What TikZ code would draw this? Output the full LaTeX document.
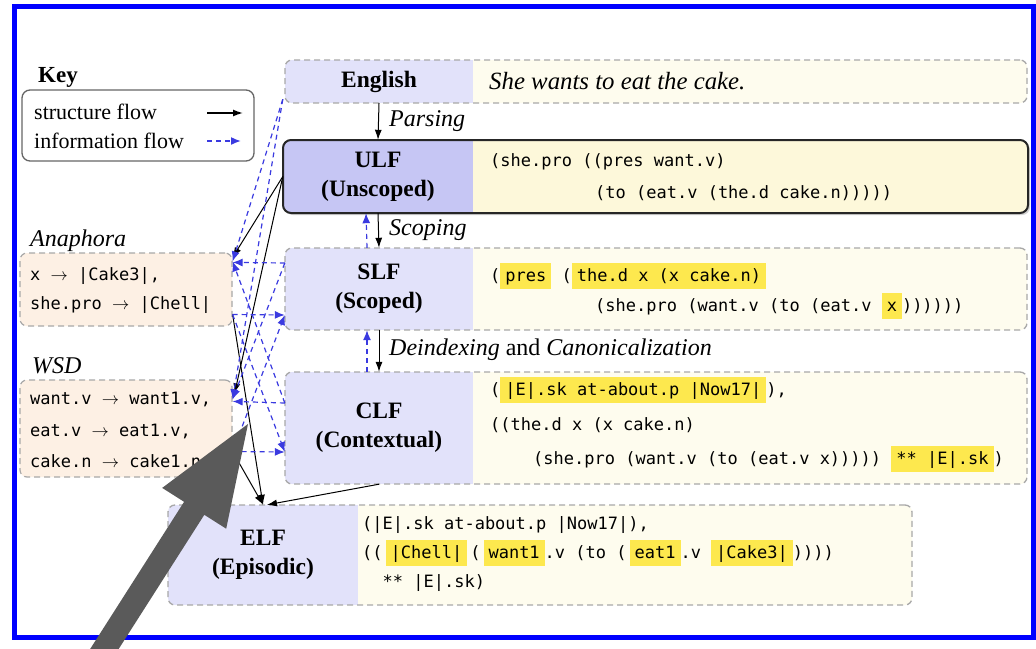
\documentclass[tikz,border=0pt]{standalone}
\usepackage{fontspec}
\setmainfont{Liberation Serif}
\newfontfamily\codefont{DejaVu Sans Mono}
\usetikzlibrary{arrows.meta,calc,shadows}
\definecolor{lav}{HTML}{E2E2FA}
\definecolor{lavd}{HTML}{C6C6F4}
\definecolor{cream}{HTML}{FEFCEE}
\definecolor{creamd}{HTML}{FDF8DA}
\definecolor{peach}{HTML}{FDF0E4}
\definecolor{hly}{HTML}{FDE84E}
\definecolor{dashgray}{HTML}{A8A8A8}
\definecolor{infoblue}{HTML}{3A3AE0}
\definecolor{bigarrow}{HTML}{5A5A5A}
\definecolor{frameblue}{HTML}{0000FF}
\newcommand\hl[1]{{\setlength{\fboxsep}{0pt}\colorbox{hly}{\rule[-8pt]{0pt}{26pt}\hspace{5pt}#1\hspace{5pt}}}}
\tikzset{
  stagebox/.style={draw=dashgray, dash pattern=on 6pt off 4pt, line width=1.3pt,
    rounded corners=7pt, fill=cream, inner sep=0pt,
    path picture={\fill[lav, sharp corners] (path picture bounding box.south west) rectangle ([xshift=#1]path picture bounding box.north west);}},
  ulfstyle/.style={draw=black!85, line width=2pt, rounded corners=8pt, fill=creamd, inner sep=0pt,
    drop shadow={shadow xshift=2pt, shadow yshift=-2pt, opacity=0.35},
    path picture={\fill[lavd, sharp corners] (path picture bounding box.south west) rectangle ([xshift=#1]path picture bounding box.north west);}},
  sidebox/.style={draw=dashgray, dash pattern=on 6pt off 4pt, line width=1.2pt,
    rounded corners=7pt, fill=peach, inner sep=0pt},
  keybox/.style={draw=black!60, line width=1.3pt, rounded corners=8pt, fill=white, inner sep=0pt},
  lbl/.style={font=\bfseries\fontsize{23.5pt}{29pt}\selectfont, align=center, inner sep=0pt},
  ital/.style={font=\itshape\fontsize{24pt}{29pt}\selectfont, inner sep=0pt, anchor=west},
  plain/.style={font=\fontsize{22pt}{26pt}\selectfont, inner sep=0pt, anchor=west},
  code/.style={font=\codefont\fontsize{17pt}{20pt}\selectfont, inner sep=0pt, anchor=base west},
  sflow/.style={-{Latex[length=10pt,width=7pt]}, line width=1pt, black},
  iflow/.style={-{Latex[length=10pt,width=8pt]}, line width=1.2pt, infoblue, dash pattern=on 5pt off 4pt},
}
\begin{document}
\begin{tikzpicture}[x=1pt, y=-1pt]
\useasboundingbox (0,0) rectangle (1036,648);
\clip (0,0) rectangle (1036,648);
\fill[white] (0,0) rectangle (1036,648);

% ---------- Key ----------
\node[font=\bfseries\fontsize{23pt}{26pt}\selectfont, inner sep=0pt, anchor=west] (keylbl) at (38,77) {Key};
\node[keybox, minimum width=232pt, minimum height=71pt] (key) at (138,125.5) {};
\node[plain] (ks) at (34,112) {structure flow};
\node[plain] (ki) at (34,141) {information flow};
\coordinate (ks1) at (207,113); \coordinate (ks2) at (243,113);
\coordinate (ki1) at (207,141); \coordinate (ki2) at (241,141);
\draw[sflow, line width=1.4pt] (ks1) -- (ks2);
\draw[iflow, line width=1.6pt] (ki1) -- (ki2);

% ---------- English ----------
\node[stagebox=188pt, minimum width=742pt, minimum height=43pt] (engbox) at (656,81.5) {};
\node[lbl, minimum width=188pt, minimum height=43pt] (eng) at (379,81.5) {English};
\node[ital, font=\itshape\fontsize{24.8pt}{29pt}\selectfont] (engtxt) at (489,81.5) {She wants to eat the cake.};

% ---------- ULF ----------
\node[ulfstyle=190pt, minimum width=745pt, minimum height=73pt] (ulfbox) at (655.5,176.5) {};
\node[lbl, minimum width=190pt, minimum height=73pt] (ulf) at (378,176.5) {ULF\\(Unscoped)};
\node[code] (ulf1) at (490,166) {(she.pro ((pres want.v)};
\node[code] (ulf2) at (595,198) {(to (eat.v (the.d cake.n)))))};

% ---------- SLF ----------
\node[stagebox=188pt, minimum width=742pt, minimum height=82pt] (slfbox) at (656,289) {};
\node[lbl, minimum width=188pt, minimum height=82pt] (slf) at (379,289) {SLF\\(Scoped)};
\node[code] (slf1) at (490,281) {(\hl{pres} (\hl{the.d x (x cake.n)}};
\node[code] (slf2) at (595,311) {(she.pro (want.v (to (eat.v \hl{x}))))))};

% ---------- CLF ----------
\node[stagebox=188pt, minimum width=742pt, minimum height=112pt] (clfbox) at (656,428) {};
\node[lbl, minimum width=188pt, minimum height=112pt] (clf) at (379,428) {CLF\\(Contextual)};
\node[code] (clf1) at (490,395) {(\hl{|E|.sk at-about.p |Now17|}),};
\node[code] (clf2) at (490,430) {((the.d x (x cake.n)};
\node[code] (clf3) at (533,464) {(she.pro (want.v (to (eat.v x))))) \hl{** |E|.sk})};

% ---------- ELF ----------
\node[stagebox=190pt, minimum width=744pt, minimum height=100pt] (elfbox) at (540,555) {};
\node[lbl, minimum width=190pt, minimum height=100pt] (elf) at (263,555) {ELF\\(Episodic)};
\node[code] (elf1) at (362,529) {(|E|.sk at-about.p |Now17|),};
\node[code] (elf2) at (362,558) {((\hspace{3pt}\hl{|Chell|}\hspace{3pt}(\hspace{3pt}\hl{want1}.v (to (\hspace{3pt}\hl{eat1}.v \hl{|Cake3|}))))};
\node[code] (elf3) at (362,587) {\hspace{20.5pt}** |E|.sk)};

% ---------- Anaphora ----------
\node[ital] (analbl) at (30,241) {Anaphora};
\node[sidebox, minimum width=212pt, minimum height=73pt] (ana) at (126,289.5) {};
\node[code] (ana1) at (30,280) {x $\rightarrow$ |Cake3|,};
\node[code] (ana2) at (30,309) {she.pro $\rightarrow$ |Chell|};

% ---------- WSD ----------
\node[ital] (wsdlbl) at (32,366) {WSD};
\node[sidebox, minimum width=212pt, minimum height=97pt] (wsd) at (126,428.5) {};
\node[code] (wsd1) at (30,404) {want.v $\rightarrow$ want1.v,};
\node[code] (wsd2) at (30,436) {eat.v $\rightarrow$ eat1.v,};
\node[code] (wsd3) at (30,467) {cake.n $\rightarrow$ cake1.n};

% ---------- step labels ----------
\node[ital] (parsing) at (389,121) {Parsing};
\node[ital] (scoping) at (389,230) {Scoping};
\node[ital] (deidx) at (389,350) {Deindexing \upshape and \itshape Canonicalization};

% ---------- structure flow ----------
\draw[sflow] (eng.south) -- (ulf.north);
\draw[sflow] (ulf.south) -- (slf.north);
\draw[sflow] (slf.south) -- (clf.north);
\draw[sflow] (ulf.west) -- ($(ana.north east)+(0,5)$);
\draw[sflow] (ulf.west) -- ($(wsd.north east)+(2,14)$);
\draw[sflow] ($(ana.east)+(0,25)$) -- (elf.north);
\draw[sflow] ($(wsd.east)+(0,23)$) -- (elf.north);
\draw[sflow] (clf.south) -- ($(elf.north)+(4,0)$);

% ---------- information flow ----------
\draw[iflow] ($(slf.north)+(-12,0)$) -- ($(ulf.south)+(-12,0)$);
\draw[iflow] ($(clf.north)+(-12,0)$) -- ($(slf.south)+(-12,0)$);
\draw[iflow] ($(eng.south west)+(-2,-4)$) -- ($(ana.north east)+(0,9)$);
\draw[iflow] ($(eng.south west)+(-2,-4)$) -- ($(wsd.north east)+(0,20)$);
\draw[iflow] ($(slf.west)+(0,-26)$) -- ($(ana.north east)+(0,10)$);
\draw[iflow] ($(ana.east)+(0,25)$) -- ($(slf.west)+(0,26)$);
\draw[iflow] ($(clf.west)+(0,-25)$) -- ($(wsd.north east)+(0,22)$);
\draw[iflow] ($(wsd.east)+(0,23)$) -- ($(clf.west)+(0,24)$);
\draw[iflow] ($(slf.west)+(0,-26)$) -- ($(wsd.north east)+(0,20)$);
\draw[iflow] ($(clf.west)+(0,-25)$) -- ($(ana.north east)+(0,9)$);
\draw[iflow] ($(ana.east)+(0,25)$) -- ($(clf.west)+(0,24)$);
\draw[iflow] ($(wsd.east)+(0,23)$) -- ($(slf.west)+(0,26)$);

% ---------- frame ----------
\draw[frameblue, line width=5pt] (14.5,6.5) rectangle (1033.5,637.5);

% ---------- big grey pointer ----------
\fill[bigarrow] (248,424) -- (226.2,528.7) -- (204.3,514.8) -- (96.7,683.4)
  -- (76.5,670.4) -- (184.1,501.8) -- (162.2,487.9) -- cycle;
\end{tikzpicture}
\end{document}
